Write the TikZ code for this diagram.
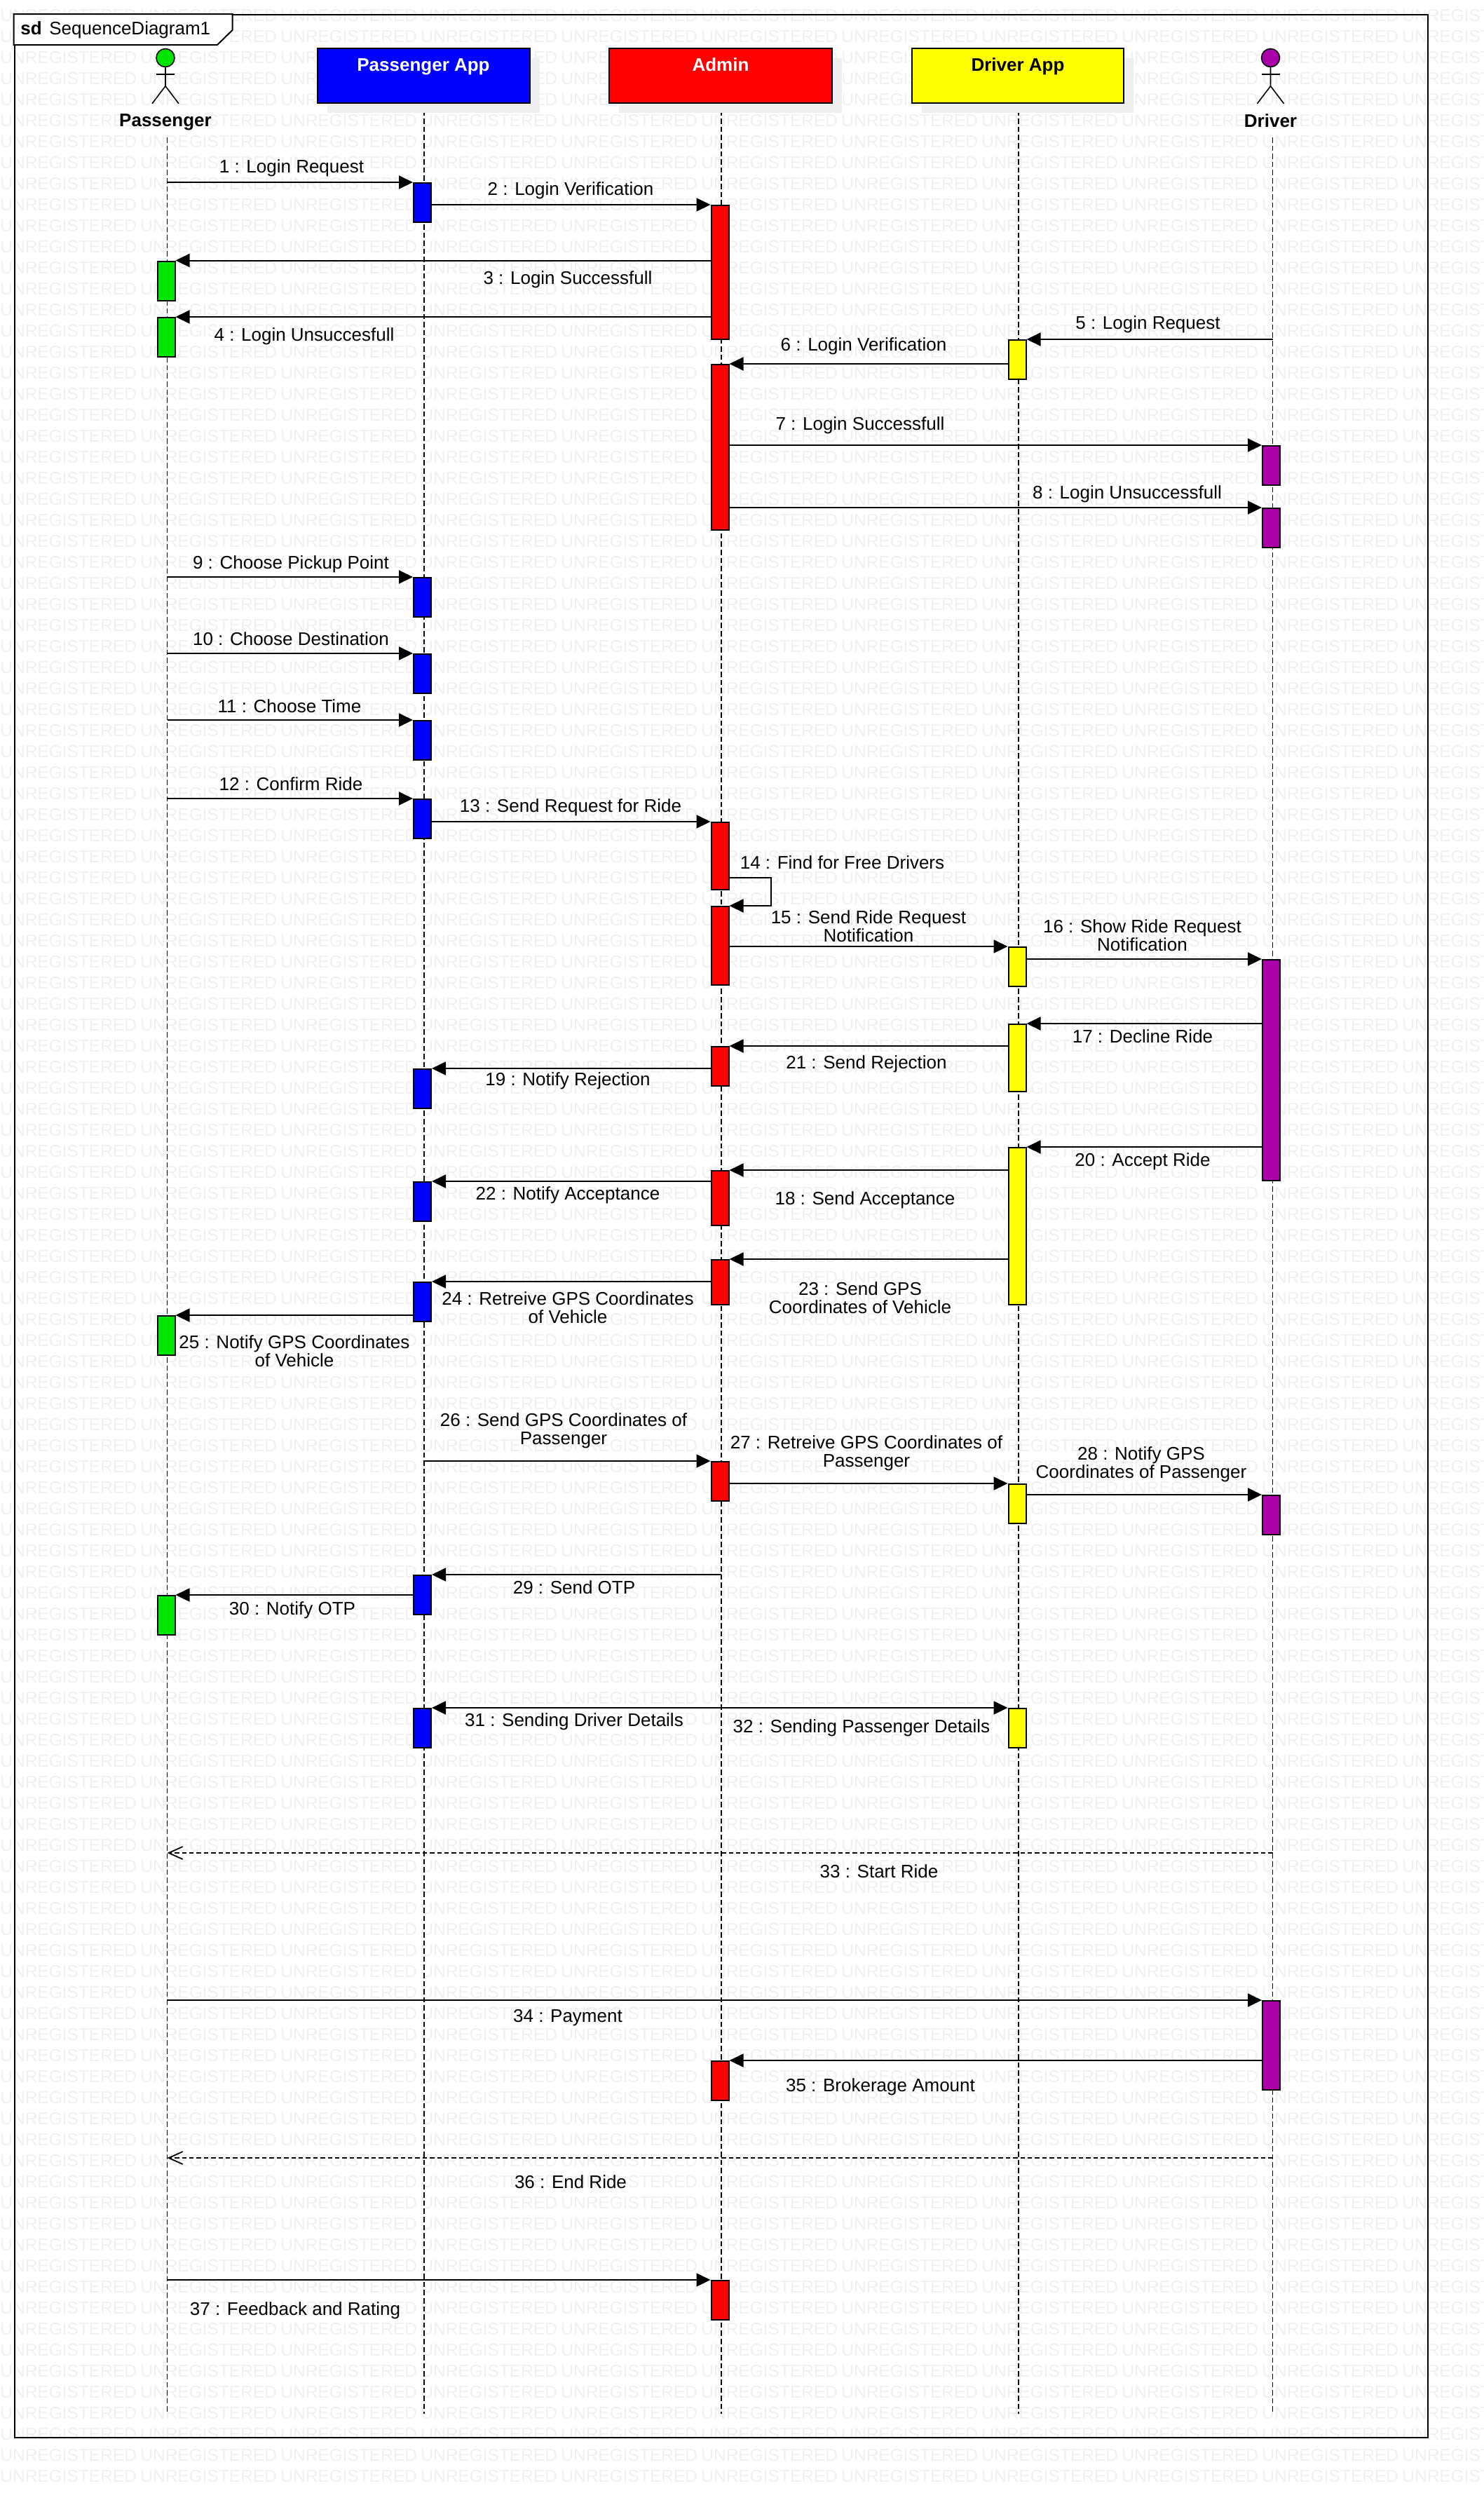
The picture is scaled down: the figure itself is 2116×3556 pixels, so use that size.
\documentclass[tikz,border=0pt]{standalone}
\usepackage{fontspec}
\setmainfont{Liberation Sans}
\usetikzlibrary{arrows.meta, shadows}
\definecolor{sdBlue}{HTML}{0000FF}
\definecolor{sdRed}{HTML}{FF0000}
\definecolor{sdYellow}{HTML}{FFFF00}
\definecolor{sdGreen}{HTML}{00E600}
\definecolor{sdPurple}{HTML}{AA00AA}
\definecolor{sdMark}{HTML}{F0F0F0}
\definecolor{sdShade}{HTML}{EFEFEF}
\tikzset{
  wmark/.style={font=\fontsize{12.25}{12.25}\selectfont, text=sdMark, inner sep=0pt, anchor=west},
  head/.style={
    draw=black, line width=1pt, inner xsep=0pt, inner ysep=0pt,
    anchor=north west, minimum height=39pt, align=center,
    text height=16pt, text depth=23pt,
    font=\fontsize{13}{13}\selectfont\bfseries,
    copy shadow={shadow xshift=7pt, shadow yshift=-7pt, fill=sdShade, draw=none}
  },
  actor/.style={circle, draw=black, line width=0.8pt, minimum size=13pt, inner sep=0pt},
  limb/.style={draw=black, line width=0.8pt},
  aname/.style={font=\fontsize{13}{13}\selectfont\bfseries, inner sep=0pt},
  life/.style={draw=black, line width=0.9pt, dash pattern=on 3.8pt off 2pt},
  act/.style={draw=black, line width=1pt, anchor=north, inner sep=0pt, minimum width=12.5pt, minimum height=28pt},
  actB/.style={act, fill=sdBlue},
  actR/.style={act, fill=sdRed},
  actY/.style={act, fill=sdYellow},
  actP/.style={act, fill=sdPurple},
  actG/.style={act, fill=sdGreen},
  msg/.style={-{Triangle[length=10pt, width=9.5pt]}, line width=1pt, draw=black},
  reply/.style={-{Straight Barb[length=10pt, width=9pt]}, line width=0.9pt, draw=black, dash pattern=on 3.2pt off 2pt},
  txt/.style={font=\fontsize{13}{13}\selectfont, align=center, inner sep=0pt, yshift=-1pt},
}
\begin{document}
\begin{tikzpicture}[x=0.5pt, y=-0.5pt]
  \useasboundingbox (0,0) rectangle (2116,3556);
  \begin{scope}
    \clip (0,0) rectangle (2116,3556);
    \foreach \i in {0,...,10}
      \foreach \k in {0,...,117}
        \node[wmark] (wm\i-\k) at (\i*200, 22+\k*30) {UNREGISTERED};
  \end{scope}

  \node[draw=black, line width=1pt, anchor=north west, minimum width=1008pt, minimum height=1728pt, inner sep=0pt] (frm) at (19.5,20) {};
  \draw[draw=black, line width=1pt, fill=white] (frm.north west) -- (331.5,20) -- (331.5,43) -- (310,64) -- (19.5,64) -- cycle;
  \node[font=\fontsize{13}{13}\selectfont\bfseries, inner sep=0pt, anchor=base west] (sdkey) at (29,49) {sd};
  \node[font=\fontsize{13}{13}\selectfont, inner sep=0pt, anchor=base west] (sdname) at (70,49) {SequenceDiagram1};

  \coordinate (llpass) at (238.5,196);
  \coordinate (llpassend) at (238.5,3443);
  \coordinate (llapp) at (605,146);
  \coordinate (llappend) at (605,3443);
  \coordinate (lladm) at (1029,146);
  \coordinate (lladmend) at (1029,3443);
  \coordinate (lldrv) at (1453,146);
  \coordinate (lldrvend) at (1453,3443);
  \coordinate (lldriver) at (1815.5,196);
  \coordinate (lldriverend) at (1815.5,3443);
  \draw[life] (llpass) -- (llpassend);
  \draw[life] (llapp) -- (llappend);
  \draw[life] (lladm) -- (lladmend);
  \draw[life] (lldrv) -- (lldrvend);
  \draw[life] (lldriver) -- (lldriverend);

  \node[head, fill=sdBlue, text=white, minimum width=151.5pt] (papp) at (451.5,68) {Passenger App};
  \node[head, fill=sdRed, text=white, minimum width=159pt] (admin) at (868,68) {Admin};
  \node[head, fill=sdYellow, text=black, minimum width=151pt] (dapp) at (1300,68) {Driver App};

  \node[actor, fill=sdGreen] (phead) at (236,82.5) {};
  \draw[limb] (phead.south) -- ++(0,26.5) -- ++(-19,25);
  \draw[limb] (phead.south) ++(0,26.5) -- ++(19,25);
  \draw[limb] (phead.south) ++(-13,9.5) -- ++(26,0);
  \node[aname] (pname) at (236,174) {Passenger};
  \node[actor, fill=sdPurple] (dhead) at (1812.5,82.5) {};
  \draw[limb] (dhead.south) -- ++(0,26.5) -- ++(-19,25);
  \draw[limb] (dhead.south) ++(0,26.5) -- ++(19,25);
  \draw[limb] (dhead.south) ++(-13,9.5) -- ++(26,0);
  \node[aname] (dname) at (1812.5,172) {Driver};

  \node[actB] (b1) at (602.5,260) {};
  \node[actR, minimum height=95.5pt] (r1) at (1027,292) {};
  \node[actG] (g1) at (237,371.5) {};
  \node[actG] (g2) at (237,452) {};
  \node[actY] (y1) at (1451,484) {};
  \node[actR, minimum height=118pt] (r2) at (1027,519) {};
  \node[actP] (v1) at (1813.5,635) {};
  \node[actP] (v2) at (1813.5,724) {};
  \node[actB] (b2) at (602.5,823) {};
  \node[actB] (b3) at (602.5,932) {};
  \node[actB] (b4) at (602.5,1027) {};
  \node[actB] (b5) at (602.5,1139) {};
  \node[actR, minimum height=48pt] (r3) at (1027,1172) {};
  \node[actR, minimum height=56pt] (r4) at (1027,1292) {};
  \node[actY] (y2) at (1451,1350) {};
  \node[actP, minimum height=157.5pt] (v3) at (1813.5,1368) {};
  \node[actY, minimum height=48pt] (y3) at (1451,1460) {};
  \node[actR] (r5) at (1027,1492) {};
  \node[actB] (b6) at (602.5,1524) {};
  \node[actY, minimum height=112pt] (y4) at (1451,1636) {};
  \node[actR, minimum height=39pt] (r6) at (1027,1669) {};
  \node[actB] (b7) at (602.5,1685) {};
  \node[actR, minimum height=32pt] (r7) at (1027,1796) {};
  \node[actB] (b8) at (602.5,1828) {};
  \node[actG] (g3) at (237,1876) {};
  \node[actR] (r8) at (1027,2084) {};
  \node[actY] (y5) at (1451,2116) {};
  \node[actP] (v4) at (1813.5,2132) {};
  \node[actB] (b9) at (602.5,2246) {};
  \node[actG] (g4) at (237,2275) {};
  \node[actB] (b10) at (602.5,2436) {};
  \node[actY] (y6) at (1451,2436) {};
  \node[actP, minimum height=63.5pt] (v5) at (1813.5,2853) {};
  \node[actR] (r9) at (1027,2939) {};
  \node[actR] (r10) at (1027,3252) {};

  \coordinate (m14) at (1100,1252);
  \coordinate (m33) at (1815.5,2643);
  \coordinate (m36) at (1815.5,3078);
  \draw[msg] (llpass |- b1.north west) -- (b1.north west);
  \draw[msg] (b1.east |- r1.north west) -- (r1.north west);
  \draw[msg] (r1.west |- g1.north east) -- (g1.north east);
  \draw[msg] (r1.west |- g2.north east) -- (g2.north east);
  \draw[msg] (lldriver |- y1.north east) -- (y1.north east);
  \draw[msg] (y1.west |- r2.north east) -- (r2.north east);
  \draw[msg] (r2.east |- v1.north west) -- (v1.north west);
  \draw[msg] (r2.east |- v2.north west) -- (v2.north west);
  \draw[msg] (llpass |- b2.north west) -- (b2.north west);
  \draw[msg] (llpass |- b3.north west) -- (b3.north west);
  \draw[msg] (llpass |- b4.north west) -- (b4.north west);
  \draw[msg] (llpass |- b5.north west) -- (b5.north west);
  \draw[msg] (b5.east |- r3.north west) -- (r3.north west);
  \draw[msg] (r3.east |- m14) -- (m14) |- (r4.north east);
  \draw[msg] (r4.east |- y2.north west) -- (y2.north west);
  \draw[msg] (y2.east |- v3.north west) -- (v3.north west);
  \draw[msg] (v3.west |- y3.north east) -- (y3.north east);
  \draw[msg] (y3.west |- r5.north east) -- (r5.north east);
  \draw[msg] (r5.west |- b6.north east) -- (b6.north east);
  \draw[msg] (v3.west |- y4.north east) -- (y4.north east);
  \draw[msg] (y4.west |- r6.north east) -- (r6.north east);
  \draw[msg] (r6.west |- b7.north east) -- (b7.north east);
  \draw[msg] (y4.west |- r7.north east) -- (r7.north east);
  \draw[msg] (r7.west |- b8.north east) -- (b8.north east);
  \draw[msg] (b8.west |- g3.north east) -- (g3.north east);
  \draw[msg] (llapp |- r8.north west) -- (r8.north west);
  \draw[msg] (r8.east |- y5.north west) -- (y5.north west);
  \draw[msg] (y5.east |- v4.north west) -- (v4.north west);
  \draw[msg] (lladm |- b9.north east) -- (b9.north east);
  \draw[msg] (b9.west |- g4.north east) -- (g4.north east);
  \draw[msg] (lladm |- b10.north east) -- (b10.north east);
  \draw[msg] (lladm |- y6.north west) -- (y6.north west);
  \draw[reply] (m33) -- (llpass |- m33);
  \draw[msg] (llpass |- v5.north west) -- (v5.north west);
  \draw[msg] (v5.west |- r9.north east) -- (r9.north east);
  \draw[reply] (m36) -- (llpass |- m36);
  \draw[msg] (llpass |- r10.north west) -- (r10.north west);

  \node[txt] (t1) at (416,238) {1 : Login Request};
  \node[txt] (t2) at (814,270) {2 : Login Verification};
  \node[txt] (t3) at (810,397) {3 : Login Successfull};
  \node[txt] (t4) at (434,478) {4 : Login Unsuccesfull};
  \node[txt] (t5) at (1637.5,461) {5 : Login Request};
  \node[txt] (t6) at (1232,492) {6 : Login Verification};
  \node[txt] (t7) at (1227,605) {7 : Login Successfull};
  \node[txt] (t8) at (1608,703) {8 : Login Unsuccessfull};
  \node[txt] (t9) at (415,803) {9 : Choose Pickup Point};
  \node[txt] (t10) at (415,909) {10 : Choose Destination};
  \node[txt] (t11) at (413,1005) {11 : Choose Time};
  \node[txt] (t12) at (415,1116) {12 : Confirm Ride};
  \node[txt] (t13) at (814,1150) {13 : Send Request for Ride};
  \node[txt] (t14) at (1201.5,1228) {14 : Find for Free Drivers};
  \node[txt] (t15) at (1239,1319) {15 : Send Ride Request\\Notification};
  \node[txt] (t16) at (1629.5,1332) {16 : Show Ride Request\\Notification};
  \node[txt] (t17) at (1630,1476) {17 : Decline Ride};
  \node[txt] (t19) at (810,1540) {19 : Notify Rejection};
  \node[txt] (t20) at (1630,1655) {20 : Accept Ride};
  \node[txt] (t21) at (1236,1516) {21 : Send Rejection};
  \node[txt] (t18) at (1234,1710) {18 : Send Acceptance};
  \node[txt] (t22) at (810,1703) {22 : Notify Acceptance};
  \node[txt] (t23) at (1227,1849) {23 : Send GPS\\Coordinates of Vehicle};
  \node[txt] (t24) at (810,1863) {24 : Retreive GPS Coordinates\\of Vehicle};
  \node[txt] (t25) at (420,1925) {25 : Notify GPS Coordinates\\of Vehicle};
  \node[txt] (t26) at (804,2039) {26 : Send GPS Coordinates of\\Passenger};
  \node[txt] (t27) at (1236,2071) {27 : Retreive GPS Coordinates of\\Passenger};
  \node[txt] (t28) at (1628,2087) {28 : Notify GPS\\Coordinates of Passenger};
  \node[txt] (t29) at (819,2262) {29 : Send OTP};
  \node[txt] (t30) at (417,2295) {30 : Notify OTP};
  \node[txt] (t31) at (819,2454) {31 : Sending Driver Details};
  \node[txt] (t32) at (1229,2463) {32 : Sending Passenger Details};
  \node[txt] (t33) at (1254,2667) {33 : Start Ride};
  \node[txt] (t34) at (810,2876) {34 : Payment};
  \node[txt] (t35) at (1256,2975) {35 : Brokerage Amount};
  \node[txt] (t36) at (814,3110) {36 : End Ride};
  \node[txt] (t37) at (421,3294) {37 : Feedback and Rating};
\end{tikzpicture}
\end{document}
